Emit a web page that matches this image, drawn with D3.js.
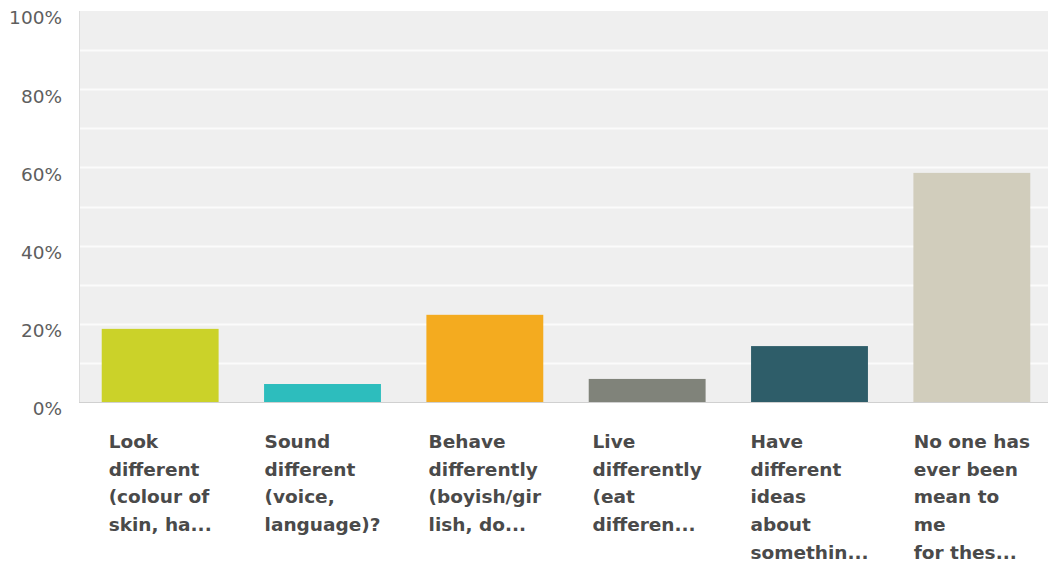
<!DOCTYPE html>
<html>
<head>
<meta charset="utf-8">
<script src="https://cdn.jsdelivr.net/npm/d3@7"></script>
<style>
  html, body { margin: 0; padding: 0; background: #fff; }
  svg { display: block; }
</style>
</head>
<body>
<svg id="chart" width="1048" height="563"></svg>
<script>
// Survey answers: share of respondents (%) per answer option
const categories = [
  ["Look", "different", "(colour of", "skin, ha..."],
  ["Sound", "different", "(voice,", "language)?"],
  ["Behave", "differently", "(boyish/gir", "lish, do..."],
  ["Live", "differently", "(eat", "differen..."],
  ["Have", "different", "ideas", "about", "somethin..."],
  ["No one has", "ever been", "mean to", "me", "for thes..."]
];
const values = [18.7, 4.6, 22.3, 5.9, 14.3, 58.6];
const colors = ["#cbd229", "#2dbdbd", "#f4ab1f", "#80837a", "#2e5d69", "#d1cdbc"];
const yTicks = [0, 20, 40, 60, 80, 100];
const gridTicks = [10, 20, 30, 40, 50, 60, 70, 80, 90];

(function () {
  const svg = d3.select("#chart");
  const W = 1048;
  const plotL = 79, plotR = 1053, plotT = 11, plotB = 402;

  const x = d3.scaleBand()
    .domain(d3.range(categories.length))
    .range([plotL, plotR])
    .paddingInner(0.28)
    .paddingOuter(0.14);

  const y = d3.scaleLinear().domain([0, 100]).range([plotB, plotT]);

  // plot background
  svg.append("rect")
    .attr("x", plotL).attr("y", plotT)
    .attr("width", W - plotL).attr("height", plotB - plotT)
    .attr("fill", "#efefef");

  // white gridlines
  svg.append("g")
    .selectAll("line")
    .data(gridTicks)
    .join("line")
    .attr("x1", plotL + 1).attr("x2", W)
    .attr("y1", d => Math.round(y(d)) + 0.5)
    .attr("y2", d => Math.round(y(d)) + 0.5)
    .attr("stroke", "#fbfbfb")
    .attr("stroke-width", 2);

  // axis lines
  svg.append("line")
    .attr("x1", plotL + 0.5).attr("x2", plotL + 0.5)
    .attr("y1", plotT).attr("y2", plotB)
    .attr("stroke", "#dcdcdc").attr("stroke-width", 1);
  svg.append("line")
    .attr("x1", plotL).attr("x2", W)
    .attr("y1", plotB + 0.5).attr("y2", plotB + 0.5)
    .attr("stroke", "#d0d0d0").attr("stroke-width", 1);

  // bars
  svg.append("g")
    .selectAll("rect")
    .data(values)
    .join("rect")
    .attr("x", (d, i) => x(i))
    .attr("width", x.bandwidth())
    .attr("y", d => y(d))
    .attr("height", d => y(0) - y(d))
    .attr("fill", (d, i) => colors[i]);

  // y-axis tick labels
  const yAxis = d3.axisLeft(y)
    .tickValues(yTicks)
    .tickFormat(d => d + "%")
    .tickSize(0)
    .tickPadding(0);
  const gy = svg.append("g")
    .attr("transform", "translate(62,7)")
    .call(yAxis);
  gy.select(".domain").remove();
  gy.selectAll("text")
    .attr("font-family", "DejaVu Sans, Verdana, sans-serif")
    .attr("font-size", 18.5)
    .attr("fill", "#5e5e5e");

  // category labels: left-aligned lines, block centred on its band
  const lineH = 27.7;
  categories.forEach((lines, i) => {
    const t = svg.append("text")
      .attr("font-family", "DejaVu Sans, Verdana, sans-serif")
      .attr("font-size", 18.5)
      .attr("font-weight", "bold")
      .attr("fill", "#4a4a4a");
    lines.forEach((ln, k) => {
      t.append("tspan").attr("x", 0).attr("y", 448 + k * lineH).text(ln);
    });
    let maxW = 0;
    t.selectAll("tspan").each(function () {
      maxW = Math.max(maxW, this.getComputedTextLength());
    });
    const cx = x(i) + x.bandwidth() / 2;
    t.selectAll("tspan").attr("x", cx - maxW / 2);
  });
})();
</script>
</body>
</html>
